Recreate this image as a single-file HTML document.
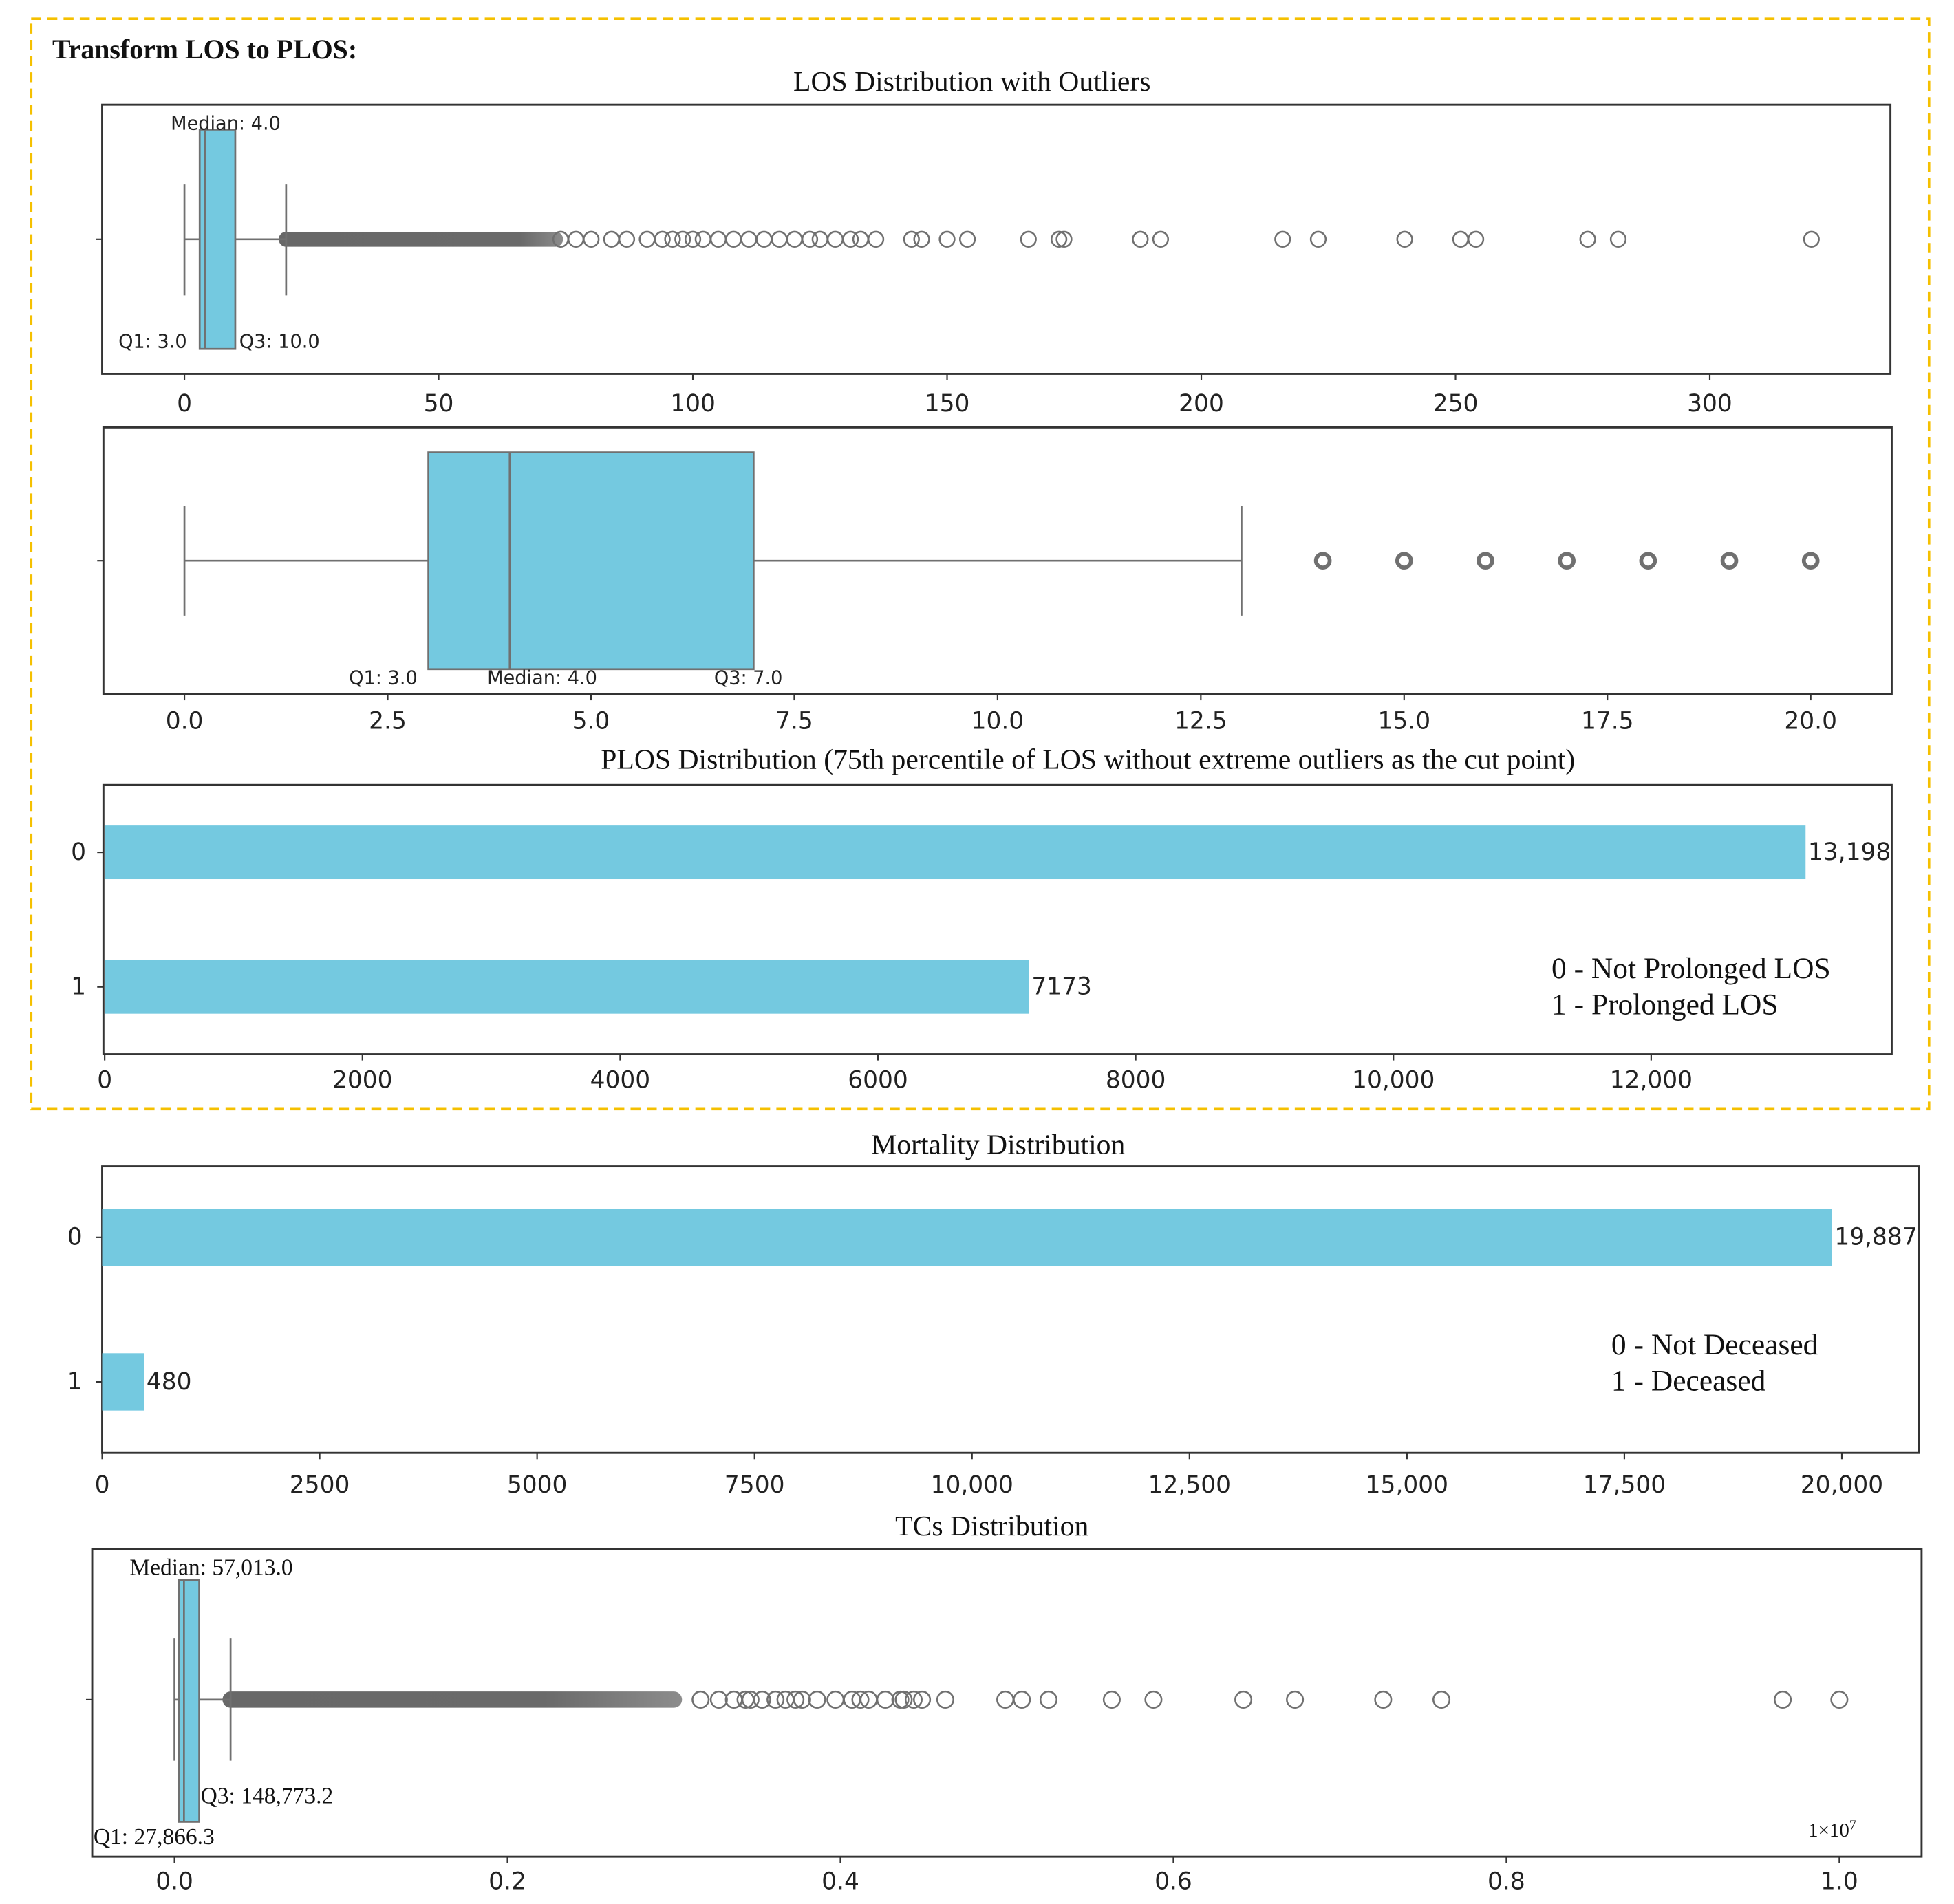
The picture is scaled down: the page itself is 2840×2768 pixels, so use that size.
<!DOCTYPE html>
<html><head><meta charset="utf-8"><style>
html,body{margin:0;padding:0;background:#fff;}
svg{display:block;}
.t{font-family:"Liberation Serif",serif;fill:#111;}
.s{font-family:"DejaVu Sans","Liberation Sans",sans-serif;fill:#222;}
</style></head><body>
<svg id="fig" width="2840" height="2768" viewBox="0 0 1568 1528" preserveAspectRatio="none" xmlns="http://www.w3.org/2000/svg">
<rect x="25" y="15" width="1523" height="875" fill="none" stroke="#f5c000" stroke-width="2" stroke-dasharray="8,5"/>
<text class="t" x="42" y="47" font-size="22" font-weight="bold">Transform  LOS to PLOS:</text>
</svg>
<script>
const NS='http://www.w3.org/2000/svg';
const svg=document.getElementById('fig');
// ---------- data ----------
const losStats=[0,3,4,10,20]; // min,q1,median,q3,max whisker
const losDenseRange=[20,73];
const losOutliers=[74,77,80,84,87,91,94,96,98,100,102,105,108,111,114,117,120,123,125,128,131,133,136,143,145,150,154,166,172,173,188,192,216,223,240,251,254,276,282,320];
const losTicks=[0,50,100,150,200,250,300];
const los2Stats=[0,3,4,7,13];
const los2Outliers=[14,15,16,17,18,19,20];
const los2Ticks=[0,2.5,5,7.5,10,12.5,15,17.5,20];
const plosCats=['0','1'];
const plosValues=[13198,7173];
const plosLabels=['13,198','7173'];
const plosTicks=[0,2000,4000,6000,8000,10000,12000];
const plosTickLabels=['0','2000','4000','6000','8000','10,000','12,000'];
const mortCats=['0','1'];
const mortValues=[19887,480];
const mortLabels=['19,887','480'];
const mortTicks=[0,2500,5000,7500,10000,12500,15000,17500,20000];
const mortTickLabels=['0','2500','5000','7500','10,000','12,500','15,000','17,500','20,000'];
const tcStats=[0,0.0027866,0.0057013,0.0148773,0.0337]; // in 1e7
const tcDenseRange=[0.0337,0.3];
const tcOutliers=[0.316,0.327,0.336,0.343,0.346,0.353,0.361,0.367,0.373,0.377,0.386,0.397,0.407,0.412,0.417,0.427,0.436,0.438,0.444,0.449,0.463,0.499,0.509,0.525,0.563,0.588,0.642,0.673,0.726,0.761,0.966,1.0];
const tcTicks=[0,0.2,0.4,0.6,0.8,1.0];
const tcTickLabels=['0.0','0.2','0.4','0.6','0.8','1.0'];
// ---------- helpers ----------
function mk(tag,attrs,parent){const e=document.createElementNS(NS,tag);for(const k in attrs)e.setAttribute(k,attrs[k]);(parent||svg).appendChild(e);return e;}
function txt(str,x,y,cls,size,anchor){const e=mk('text',{x:x,y:y,'class':cls,'font-size':size,'text-anchor':anchor||'start'});e.textContent=str;return e;}
function scale(d0,d1,p0,p1){return v=>p0+(v-d0)*(p1-p0)/(d1-d0);}
const BLUE='#74c9e0', GRAY='#707070';
function frame(name,x0,y0,x1,y1){const r=mk('rect',{x:x0,y:y0,width:x1-x0,height:y1-y0,fill:'none',stroke:'#333','stroke-width':1.6});}
function xaxis(prefix,ticks,labels,sx,yb,ly){ticks.forEach((t,i)=>{const l=mk('line',{x1:sx(t),x2:sx(t),y1:yb,y2:yb+5,stroke:'#333','stroke-width':1.2});
const s=txt(labels[i],sx(t),ly,'s',19,'middle');});}
function title(name,str,x,y){const e=txt(str,x,y,'t',23,'middle');}
function boxplot(prefix,stats,sx,cy,bt,bb,ct,cb){
 const [mn,q1,md,q3,mx]=stats;
 let l=mk('line',{x1:sx(mn),x2:sx(q1),y1:cy,y2:cy,stroke:GRAY,'stroke-width':1.5});
 l=mk('line',{x1:sx(q3),x2:sx(mx),y1:cy,y2:cy,stroke:GRAY,'stroke-width':1.5});
 l=mk('line',{x1:sx(mn),x2:sx(mn),y1:ct,y2:cb,stroke:GRAY,'stroke-width':1.5});
 l=mk('line',{x1:sx(mx),x2:sx(mx),y1:ct,y2:cb,stroke:GRAY,'stroke-width':1.5});
 const b=mk('rect',{x:sx(q1),y:bt,width:sx(q3)-sx(q1),height:bb-bt,fill:BLUE,stroke:GRAY,'stroke-width':1.5});
 l=mk('line',{x1:sx(md),x2:sx(md),y1:bt,y2:bb,stroke:GRAY,'stroke-width':1.5});
}
function outliers(prefix,vals,sx,cy,r,w){vals.forEach(v=>{const c=mk('circle',{cx:sx(v),cy:cy,r:r,fill:'none',stroke:GRAY,'stroke-width':w||1.4});});}
function dense(prefix,range,sx,cy,r,fade){const a=sx(range[0]),b=sx(range[1]);
 const g=mk('linearGradient',{id:prefix+'-grad',x1:0,x2:1,y1:0,y2:0});
 mk('stop',{offset:0,'stop-color':'#686868'},g);mk('stop',{offset:fade,'stop-color':'#6a6a6a'},g);mk('stop',{offset:1,'stop-color':'#8c8c8c'},g);
 const rr=mk('rect',{x:a-r,y:cy-r,width:b-a+2*r,height:2*r,rx:r,fill:'url(#'+prefix+'-grad)'});}
function ytick(prefix,y,x,label,lx){const l=mk('line',{x1:x-5,x2:x,y1:y,y2:y,stroke:'#333','stroke-width':1.2});
 if(label!==undefined){const s=txt(label,lx,y+6,'s',19,'middle');}}
function ann(name,str,x,y,cls,size){const e=txt(str,x,y,cls,size);}

// ---------- chart 1: LOS full ----------
title('los-chart-title','LOS  Distribution with Outliers',780,73);
const sx1=scale(0,300,148,1372);
frame('los-plot-frame',82,84,1517,300);
ytick('los',192,82);
dense('los',losDenseRange,sx1,192,6,0.85);
outliers('los',losOutliers,sx1,192,6);
boxplot('los',losStats,sx1,192,104,280,148,237);
ann('los-median-label','Median: 4.0',137,104,'s',15);
ann('los-q1-label','Q1: 3.0',95,279,'s',15);
ann('los-q3-label','Q3: 10.0',192,279,'s',15);
xaxis('los',losTicks,losTicks.map(String),sx1,300,330);

// ---------- chart 2: LOS zoom ----------
const sx2=scale(0,20,148,1453);
frame('los-trimmed-plot-frame',83,343,1518,557);
ytick('los-trimmed',450,83);
outliers('los-trimmed',los2Outliers,sx2,450,5.5,3.2);
boxplot('los-trimmed',los2Stats,sx2,450,363,537,406,494);
ann('los-trimmed-q1-label','Q1: 3.0',280,549,'s',15);
ann('los-trimmed-median-label','Median: 4.0',391,549,'s',15);
ann('los-trimmed-q3-label','Q3: 7.0',573,549,'s',15);
xaxis('los-trimmed',los2Ticks,los2Ticks.map(v=>v.toFixed(1)),sx2,557,585);

// ---------- chart 3: PLOS ----------
title('plos-chart-title','PLOS Distribution (75th percentile  of LOS  without extreme outliers as the cut point)',873,617);
const sx3=scale(0,12000,84,1325);
frame('plos-plot-frame',83,630,1518,846);
const plosY=[684,792];
plosCats.forEach((c,i)=>{const b=mk('rect',{x:sx3(0),y:plosY[i]-21.5,width:sx3(plosValues[i])-sx3(0),height:43,fill:BLUE});
 
 ytick('plos',plosY[i],83,c,63);
 const l=txt(plosLabels[i],sx3(plosValues[i])+2,plosY[i]+6,'s',19);});
ann('plos-legend-0','0 - Not Prolonged LOS',1245,785,'t',24);
ann('plos-legend-1','1 - Prolonged LOS',1245,814,'t',24);
xaxis('plos',plosTicks,plosTickLabels,sx3,846,873);

// ---------- chart 4: Mortality ----------
title('mortality-chart-title','Mortality Distribution',801,926);
const sx4=scale(0,20000,82,1478);
frame('mortality-plot-frame',82,936,1540,1166);
const mortY=[993,1109];
mortCats.forEach((c,i)=>{const b=mk('rect',{x:sx4(0),y:mortY[i]-23,width:sx4(mortValues[i])-sx4(0),height:46,fill:BLUE});
 
 ytick('mortality',mortY[i],82,c,60);
 const l=txt(mortLabels[i],sx4(mortValues[i])+2,mortY[i]+6,'s',19);});
ann('mortality-legend-0','0 - Not Deceased',1293,1087,'t',24);
ann('mortality-legend-1','1 - Deceased',1293,1116,'t',24);
xaxis('mortality',mortTicks,mortTickLabels,sx4,1166,1198);

// ---------- chart 5: TCs ----------
title('tcs-chart-title','TCs Distribution',796,1232);
const sx5=scale(0,1,140,1476);
frame('tcs-plot-frame',74,1243,1542,1490);
ytick('tcs',1364,74);
dense('tcs',tcDenseRange,sx5,1364,6.5,0.7);
outliers('tcs',tcOutliers,sx5,1364,6.5);
boxplot('tcs',tcStats,sx5,1364,1268,1462,1315,1413);
ann('tcs-median-label','Median: 57,013.0',104,1264,'t',18.5);
ann('tcs-q3-label','Q3: 148,773.2',161,1447,'t',18.5);
ann('tcs-q1-label','Q1: 27,866.3',75,1480,'t',18.5);
const off=txt('1×10',1451,1474,'t',16);
const sup=mk('tspan',{dy:-6,'font-size':11},off);sup.textContent='7';
xaxis('tcs',tcTicks,tcTickLabels,sx5,1490,1516);
</script>
</body></html>
